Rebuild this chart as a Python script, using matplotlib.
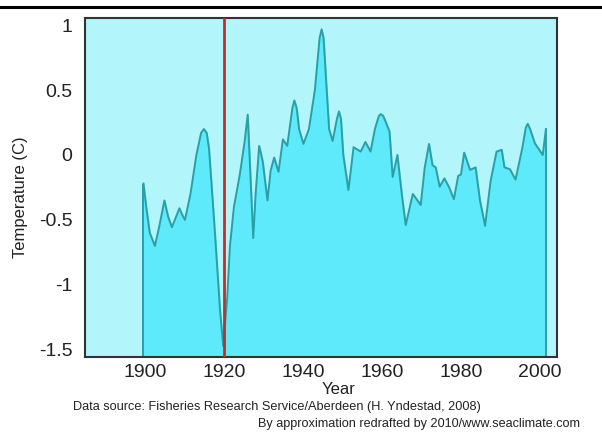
import matplotlib
matplotlib.use("Agg")
import matplotlib.pyplot as plt
from matplotlib.lines import Line2D

# temperature anomaly
years = [1899.6, 1900.3, 1901.2, 1902.5, 1903.6, 1904.9, 1905.8, 1906.8, 1907.8, 1908.7,
         1909.4, 1910.1, 1911.5, 1913.0, 1914.2, 1914.9, 1915.6, 1916.2, 1917.7, 1919.0,
         1919.8, 1920.8, 1921.5, 1922.5, 1924.0, 1925.2, 1926.0, 1926.6, 1927.4, 1928.0,
         1928.9, 1929.8, 1931.0, 1931.8, 1932.7, 1933.8, 1934.9, 1936.0, 1937.3, 1937.8,
         1938.4, 1939.0, 1940.1, 1941.5, 1943.0, 1944.2, 1944.7, 1945.2, 1945.8, 1946.6,
         1947.5, 1948.6, 1949.1, 1949.6, 1950.2, 1951.5, 1952.8, 1954.6, 1955.8, 1957.1,
         1958.2, 1959.2, 1959.7, 1960.3, 1961.0, 1961.9, 1962.7, 1963.9, 1965.0, 1966.0,
         1967.8, 1969.8, 1970.8, 1971.9, 1972.8, 1973.6, 1974.6, 1975.8, 1977.0, 1978.2,
         1979.3, 1980.0, 1980.8, 1982.3, 1983.7, 1984.8, 1986.1, 1987.5, 1989.0, 1990.3,
         1991.0, 1992.4, 1993.8, 1995.5, 1996.4, 1996.9, 1997.5, 1998.7, 2000.7, 2001.5]
temps = [-0.22, -0.40, -0.60, -0.70, -0.55, -0.35, -0.47, -0.556, -0.48, -0.41,
         -0.46, -0.50, -0.30, 0.00, 0.17, 0.20, 0.17, 0.05, -0.60, -1.20,
         -1.47, -1.10, -0.70, -0.40, -0.15, 0.10, 0.31, -0.10, -0.64, -0.30,
         0.07, -0.05, -0.35, -0.12, -0.02, -0.13, 0.12, 0.07, 0.36, 0.42,
         0.36, 0.20, 0.085, 0.20, 0.50, 0.90, 0.967, 0.90, 0.60, 0.20,
         0.108, 0.28, 0.335, 0.28, 0.00, -0.27, 0.06, 0.026, 0.10, 0.026,
         0.20, 0.30, 0.315, 0.30, 0.25, 0.18, -0.17, 0.00, -0.30, -0.54,
         -0.30, -0.385, -0.10, 0.085, -0.08, -0.095, -0.244, -0.18, -0.25, -0.34,
         -0.16, -0.15, 0.018, -0.115, -0.095, -0.35, -0.546, -0.20, 0.026, 0.04,
         -0.095, -0.11, -0.19, 0.05, 0.21, 0.24, 0.20, 0.09, 0.00, 0.20]

x_ticks = [1900, 1920, 1940, 1960, 1980, 2000]
y_ticks = [1, 0.5, 0, -0.5, -1, -1.5]
y_tick_labels = ['1', '0.5', '0', '-0.5', '-1', '-1.5']
marker_year = 1920

plt.rcParams['font.family'] = ['Liberation Sans', 'DejaVu Sans']

fig = plt.figure(figsize=(6.02, 4.34), dpi=100)
ax = fig.add_axes([0.1412, 0.1774, 0.784, 0.781])

ymin, ymax = -1.555, 1.054
ax.set_facecolor('#b2f5fb')
ax.fill_between(years, ymin, temps, color='#5eeafb', zorder=1)
ax.plot(years, temps, color='#2a9fa6', lw=1.4, zorder=2)
# vertical edges where the series starts and ends
ax.vlines([years[0], years[-1]], ymin, [temps[0], temps[-1]], color='#2a9fa6', lw=1.4, zorder=2)
ax.axvline(marker_year, color='#c0302a', lw=2, zorder=3)

ax.set_xlim(1884.8, 2004.3)
ax.set_ylim(ymin, ymax)
ax.set_xticks(x_ticks)
ax.set_yticks(y_ticks)
ax.set_yticklabels(y_tick_labels)
ax.tick_params(axis='both', length=0, labelsize=14, colors='#222222')
ax.tick_params(axis='x', pad=5)
ax.tick_params(axis='y', pad=9)

for s in ax.spines.values():
    s.set_color('#333333')
    s.set_linewidth(1.5)

fig.text(339 / 602, 1 - 389 / 434, 'Year', ha='center', va='center', fontsize=12, color='#222222')
fig.text(21 / 602, 1 - 197 / 434, 'Temperature (C)', rotation=90, ha='center', va='center',
         fontsize=12, color='#222222')
fig.text(277 / 602, 1 - 407 / 434, 'Data source: Fisheries Research Service/Aberdeen (H. Yndestad, 2008)',
         ha='center', va='center', fontsize=9.2, color='#222222')
fig.text(580 / 602, 1 - 424 / 434, 'By approximation redrafted by 2010/www.seaclimate.com',
         ha='right', va='center', fontsize=9.1, color='#222222')

# black rule across the top of the image
fig.add_artist(Line2D([0, 1], [1 - 6.5 / 434, 1 - 6.5 / 434], color='black', lw=2.2,
                      transform=fig.transFigure))

fig.savefig('out.png', dpi=100)
